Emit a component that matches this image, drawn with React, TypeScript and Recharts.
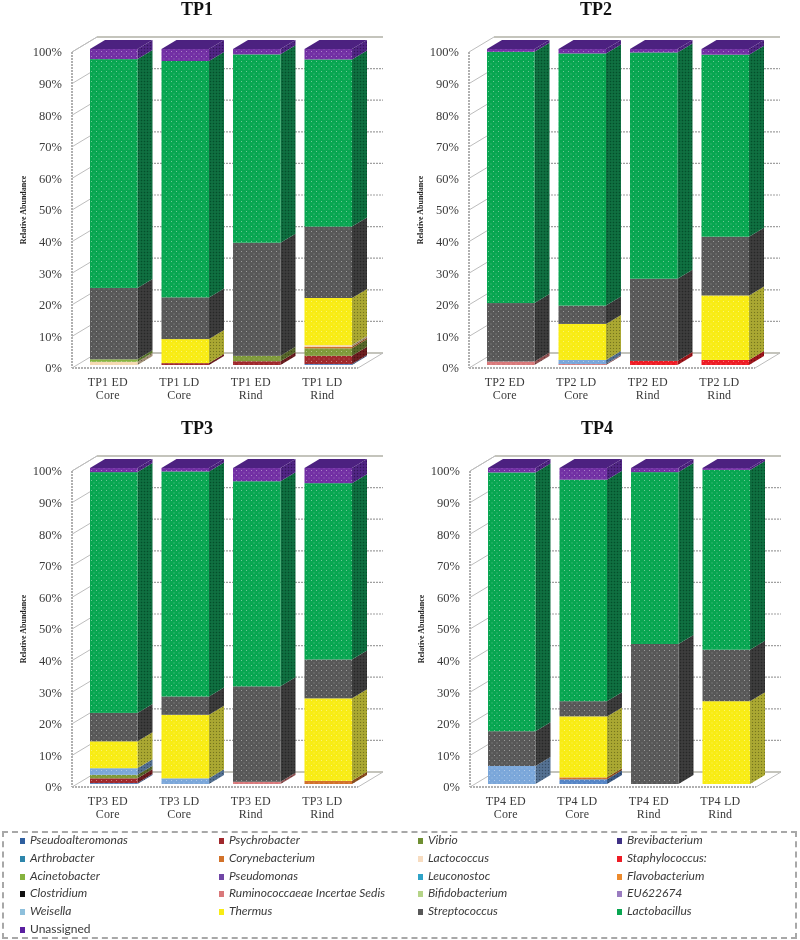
// App.tsx: four stacked 3D-looking bar panels with a shared legend
import React from 'react';
import { BarChart, Bar, XAxis, YAxis, CartesianGrid } from 'recharts';

const speciesNames = [
  'Pseudoalteromonas', 'Psychrobacter', 'Vibrio', 'Brevibacterium',
  'Arthrobacter', 'Corynebacterium', 'Lactococcus', 'Staphylococcus:',
  'Acinetobacter', 'Pseudomonas', 'Leuconostoc', 'Flavobacterium',
  'Clostridium', 'Ruminococcaeae Incertae Sedis', 'Bifidobacterium', 'EU622674',
  'Weisella', 'Thermus', 'Streptococcus', 'Lactobacillus',
  'Unassigned',
];

const speciesColors = [
  '#5585c6', '#a0282c', '#7f9a3a', '#4a3a8c',
  '#2e86ab', '#d2722a', '#f5d9b0', '#ee1c25',
  '#86b33e', '#7046a6', '#2fa3c7', '#ed8a2c',
  '#111111', '#d9787a', '#b5d488', '#9a7cc0',
  '#7ba7da', '#f8ec14', '#585858', '#08a651',
  '#7230a4',
];

const legendColors = [
  '#2f5f9f', '#a0282c', '#6f8f32', '#3f3185',
  '#2e86ab', '#d2722a', '#f7dcc0', '#ee1c25',
  '#86b33e', '#7046a6', '#2fa3c7', '#ed8a2c',
  '#111111', '#d9787a', '#b5d488', '#9a7cc0',
  '#8ec0dc', '#f8ec14', '#585858', '#08a651',
  '#5a1fa0',
];

const sideColors: Record<string, string> = {
  Lactobacillus: '#0a6b3c',
  Streptococcus: '#383838',
  Thermus: '#a8a62e',
  Unassigned: '#4c2180',
};

const percentTicks = [0, 10, 20, 30, 40, 50, 60, 70, 80, 90, 100];

// values per species, one per bar, species not listed are zero
const tp1Labels = ['TP1 ED Core', 'TP1 LD Core', 'TP1 ED Rind', 'TP1 LD Rind'];
const tp1Values: Record<string, number[]> = {
  Pseudoalteromonas: [0, 0, 0, 0.3],
  Psychrobacter: [0, 0.6, 1.2, 2.6],
  Vibrio: [0, 0, 1.7, 2.4],
  Corynebacterium: [0, 0, 0, 0.5],
  Lactococcus: [1.0, 0, 0, 0.5],
  Acinetobacter: [0.8, 0, 0, 0],
  Thermus: [0, 7.6, 0, 14.9],
  Streptococcus: [22.6, 13.2, 35.8, 22.6],
  Lactobacillus: [72.4, 74.8, 59.6, 52.9],
  Unassigned: [3.2, 3.8, 1.7, 3.3],
};

const tp2Labels = ['TP2 ED Core', 'TP2 LD Core', 'TP2 ED Rind', 'TP2 LD Rind'];
const tp2Values: Record<string, number[]> = {
  'Staphylococcus:': [0, 0, 1.3, 1.6],
  'Ruminococcaeae Incertae Sedis': [1.1, 0.3, 0, 0],
  Weisella: [0, 1.3, 0, 0],
  Thermus: [0, 11.4, 0, 20.4],
  Streptococcus: [18.5, 5.8, 26.0, 18.6],
  Lactobacillus: [79.5, 79.8, 71.6, 57.6],
  Unassigned: [0.9, 1.4, 1.1, 1.8],
};

const tp3Labels = ['TP3 ED Core', 'TP3 LD Core', 'TP3 ED Rind', 'TP3 LD Rind'];
const tp3Values: Record<string, number[]> = {
  Pseudoalteromonas: [0.3, 0, 0, 0],
  Psychrobacter: [1.5, 0, 0, 0],
  Vibrio: [1.1, 0, 0, 0],
  Corynebacterium: [0, 0, 0, 1.0],
  'Ruminococcaeae Incertae Sedis': [0, 0, 0.7, 0],
  Weisella: [2.1, 1.8, 0, 0],
  Thermus: [8.5, 20.1, 0, 26.1],
  Streptococcus: [9.0, 5.8, 30.2, 12.3],
  Lactobacillus: [76.2, 71.2, 64.9, 55.8],
  Unassigned: [1.3, 1.1, 4.2, 4.8],
};

const tp4Labels = ['TP4 ED Core', 'TP4 LD Core', 'TP4 ED Rind', 'TP4 LD Rind'];
const tp4Values: Record<string, number[]> = {
  Pseudoalteromonas: [0, 1.5, 0, 0],
  Corynebacterium: [0, 0.6, 0, 0],
  Weisella: [5.7, 0, 0, 0],
  Thermus: [0, 19.3, 0, 26.2],
  Streptococcus: [11.0, 4.8, 44.3, 16.3],
  Lactobacillus: [81.9, 70.1, 54.4, 56.9],
  Unassigned: [1.4, 3.7, 1.3, 0.6],
};

const SERIF = '"Liberation Serif", serif';
const DEPTH_X = 15;
const DEPTH_Y = 9;
const WALL_X = 25;
const WALL_Y = 15;
const BAR_SHIFT_X = 6;
const BAR_SHIFT_Y = -3;

// darken a hex colour for the side of a box
const shade = (hex: string, k: number) => {
  const n = parseInt(hex.slice(1), 16);
  const c = [(n >> 16) & 255, (n >> 8) & 255, n & 255].map((v) => Math.round(v * k));
  return `rgb(${c[0]},${c[1]},${c[2]})`;
};

const buildRows = (labels: string[], values: Record<string, number[]>) =>
  labels.map((label, i) => {
    const row: Record<string, string | number> = { label };
    speciesNames.forEach((name) => {
      row[name] = values[name] ? values[name][i] : 0;
    });
    return row;
  });

const Box3D = ({ x, y, width, height, color, side, isTop }: any) => {
  if (!height || height <= 0) return null;
  const l = x + BAR_SHIFT_X;
  const t = y + BAR_SHIFT_Y;
  const r = l + width;
  const b = t + height;
  const sidePts = `${r},${t} ${r + DEPTH_X},${t - DEPTH_Y} ${r + DEPTH_X},${b - DEPTH_Y} ${r},${b}`;
  const topPts = `${l},${t} ${l + DEPTH_X},${t - DEPTH_Y} ${r + DEPTH_X},${t - DEPTH_Y} ${r},${t}`;
  return (
    <g>
      <polygon points={sidePts} fill={side} />
      <polygon points={sidePts} fill="url(#sideDots)" />
      {isTop && <polygon points={topPts} fill={side} />}
      <rect x={l} y={t} width={width} height={height} fill={color} />
      <rect x={l} y={t} width={width} height={height} fill="url(#frontDots)" />
    </g>
  );
};

// grid row sits on the back wall, with its diagonal on the side wall
const WallLine = (p: any) => {
  const bottom = p.y + p.height;
  const isEdge = Math.abs(p.y1 - bottom) < 1 || Math.abs(p.y1 - p.y) < 1;
  return (
    <g key={p.key}>
      <line x1={p.x1} y1={p.y1} x2={p.x1 + WALL_X} y2={p.y1 - WALL_Y} stroke="#bdbdbd" strokeWidth={1} />
      <line
        x1={p.x1 + WALL_X}
        y1={p.y1 - WALL_Y}
        x2={p.x2 + WALL_X}
        y2={p.y1 - WALL_Y}
        stroke={isEdge ? '#c4c4bc' : '#a0a0a0'}
        strokeWidth={isEdge ? 2 : 1.2}
        strokeDasharray={isEdge ? undefined : '2 1'}
      />
      {Math.abs(p.y1 - bottom) < 1 && (
        <line x1={p.x2} y1={p.y1} x2={p.x2 + WALL_X} y2={p.y1 - WALL_Y} stroke="#bdbdbd" strokeWidth={1} />
      )}
    </g>
  );
};

const CategoryTick = ({ x, y, payload }: any) => {
  const words = String(payload.value).split(' ');
  return (
    <text x={x} textAnchor="middle" fontFamily={SERIF} fontSize={12} fill="#3a3a3a" letterSpacing={0.2}>
      <tspan x={x} y={y + 10}>{words.slice(0, 2).join(' ')}</tspan>
      <tspan x={x} y={y + 23}>{words[2]}</tspan>
    </text>
  );
};

const Panel = ({ title, left, top, titleWidth, labels, values }: any) => (
  <div style={{ position: 'absolute', left, top, width: 400, height: 410 }}>
    <div
      style={{
        position: 'absolute',
        left: 0,
        top: -1,
        width: titleWidth,
        textAlign: 'center',
        fontFamily: SERIF,
        fontWeight: 'bold',
        fontSize: 18,
        color: '#111',
      }}
    >
      {title}
    </div>
    <BarChart
      width={400}
      height={410}
      data={buildRows(labels, values)}
      margin={{ top: 52, right: 42, bottom: 0, left: 0 }}
      barSize={47.5}
    >
      <CartesianGrid vertical={false} horizontal={WallLine} />
      <XAxis
        dataKey="label"
        interval={0}
        height={42}
        tickLine={false}
        tick={<CategoryTick />}
        stroke="#b0b0b0"
        strokeWidth={2}
        strokeDasharray="2 1"
      />
      <YAxis
        type="number"
        width={72}
        domain={[0, 100]}
        ticks={percentTicks}
        interval={0}
        tickLine={false}
        tickFormatter={(v: number) => `${v}%`}
        tick={{ fontFamily: SERIF, fontSize: 12.5, fill: '#3a3a3a', dx: -2 }}
        stroke="#b0b0b0"
        strokeWidth={2}
        strokeDasharray="2 1"
        label={{
          value: 'Relative Abundance',
          angle: -90,
          position: 'insideLeft',
          dx: 18,
          style: { fontFamily: SERIF, fontWeight: 'bold', fontSize: 8, fill: '#222', textAnchor: 'middle' },
        }}
      />
      {speciesNames.map((name, i) => (
        <Bar
          key={name}
          dataKey={name}
          stackId="a"
          isAnimationActive={false}
          shape={(props: any) => (
            <Box3D
              {...props}
              color={speciesColors[i]}
              side={sideColors[name] || shade(speciesColors[i], 0.65)}
              isTop={name === 'Unassigned'}
            />
          )}
        />
      ))}
    </BarChart>
  </div>
);

const SpeciesLegend = () => (
  <div
    style={{
      position: 'absolute',
      left: 2,
      top: 831,
      width: 791,
      height: 104,
      border: '2px dashed #a8a8a8',
      boxSizing: 'content-box',
    }}
  >
    {speciesNames.map((name, i) => (
      <div
        key={name}
        style={{
          position: 'absolute',
          left: 16 + (i % 4) * 199,
          top: Math.floor(i / 4) * 17.8,
          height: 14,
          lineHeight: '14px',
          whiteSpace: 'nowrap',
          fontFamily: 'Lato, sans-serif',
          fontStyle: name === 'Unassigned' ? 'normal' : 'italic',
          fontSize: 12,
          color: '#3a3a3a',
        }}
      >
        <span
          style={{
            display: 'inline-block',
            width: 5,
            height: 6,
            marginRight: 5,
            background: legendColors[i],
          }}
        />
        {name}
      </div>
    ))}
  </div>
);

export default function App() {
  return (
    <div
      style={{
        position: 'absolute',
        left: 0,
        top: 0,
        width: 800,
        height: 940,
        background: '#fff',
        overflow: 'hidden',
        filter: 'blur(0.45px)',
      }}
    >
      <svg width={0} height={0} style={{ position: 'absolute' }}>
        <defs>
          <pattern id="frontDots" width={5} height={5} patternUnits="userSpaceOnUse">
            <rect x={1} y={1} width={1} height={1} fill="#ffffff" fillOpacity={0.4} />
            <rect x={3.5} y={3.5} width={1} height={1} fill="#ffffff" fillOpacity={0.3} />
          </pattern>
          <pattern id="sideDots" width={3} height={3} patternUnits="userSpaceOnUse">
            <rect x={0} y={0} width={1} height={1} fill="#000000" fillOpacity={0.3} />
            <rect x={1.5} y={1.5} width={1} height={1} fill="#ffffff" fillOpacity={0.1} />
          </pattern>
        </defs>
      </svg>
      <Panel title="TP1" left={0} top={0} titleWidth={394} labels={tp1Labels} values={tp1Values} />
      <Panel title="TP2" left={397} top={0} titleWidth={398} labels={tp2Labels} values={tp2Values} />
      <Panel title="TP3" left={0} top={419} titleWidth={394} labels={tp3Labels} values={tp3Values} />
      <Panel title="TP4" left={398} top={419} titleWidth={398} labels={tp4Labels} values={tp4Values} />
      <SpeciesLegend />
    </div>
  );
}
